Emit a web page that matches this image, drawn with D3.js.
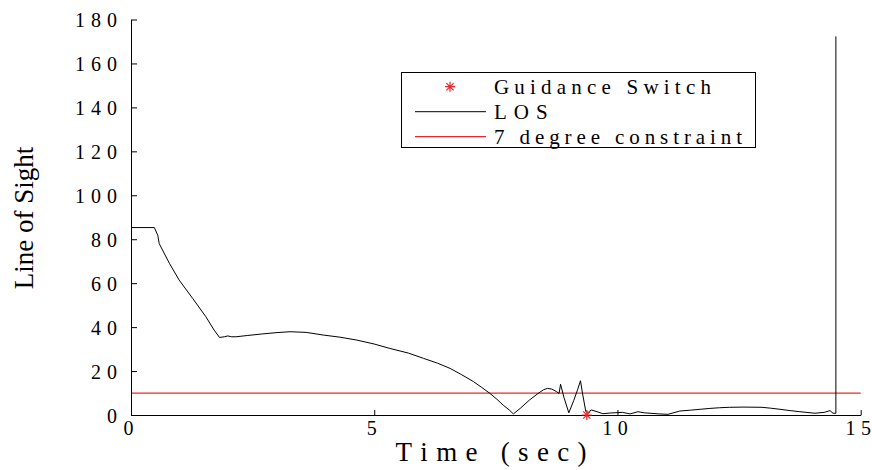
<!DOCTYPE html>
<html>
<head>
<meta charset="utf-8">
<script src="https://cdn.jsdelivr.net/npm/d3@7"></script>
<style>
  html, body { margin: 0; padding: 0; background: #fff; }
  svg { display: block; }
  text { font-family: "Liberation Serif", serif; fill: #000; }
</style>
</head>
<body>
<svg id="chart" width="872" height="470"></svg>
<script>
// ---- data ----
const losTime = [0, 0.48, 0.55, 0.58, 0.79, 0.99, 1.27, 1.54, 1.71, 1.82, 1.92, 1.99, 2.06, 2.16, 2.4, 2.7, 3.0, 3.27, 3.6, 3.95, 4.3, 4.64, 5.0, 5.32, 5.7, 6.01, 6.3, 6.56, 6.8, 7.04, 7.2, 7.38, 7.52, 7.65, 7.78, 7.86, 8.0, 8.19, 8.35, 8.48, 8.56, 8.65, 8.75, 8.8, 8.83, 8.9, 9.0, 9.1, 9.18, 9.24, 9.28, 9.35, 9.4, 9.46, 9.58, 9.7, 9.85, 9.93, 10.1, 10.26, 10.42, 10.55, 10.67, 10.85, 11.04, 11.28, 11.5, 11.7, 11.9, 12.1, 12.3, 12.6, 12.97, 13.15, 13.34, 13.55, 13.75, 14.06, 14.25, 14.37, 14.43, 14.49, 14.49];
const losValue = [85.3, 85.3, 81.8, 78, 69, 61.4, 53, 44.7, 38.6, 35.3, 35.6, 36, 35.6, 35.6, 36.2, 36.9, 37.5, 37.9, 37.6, 36.4, 35.4, 34.1, 32.3, 30.3, 28.2, 25.8, 23.6, 21.2, 18.3, 15.2, 12.7, 9.8, 7.2, 4.5, 2.2, 0.5, 3.0, 6.8, 9.5, 11.5, 12.1, 11.8, 10.6, 9.8, 14.0, 8.0, 1.0, 6.5, 11.5, 15.6, 10.0, 1.5, 1.2, 2.3, 1.5, 0.6, 0.9, 1.0, 1.2, 0.5, 1.5, 1.0, 0.8, 0.5, 0.3, 1.8, 2.2, 2.6, 3.0, 3.3, 3.5, 3.6, 3.5, 3.1, 2.6, 2.0, 1.5, 0.8, 1.2, 2.0, 0.8, 0.8, 172.3];
const constraintTime = [0, 15];
const constraintValue = [10, 10];
const switchTime = [9.37];
const switchValue = [0];
const xTicks = [0, 5, 10, 15];
const yTicks = [0, 20, 40, 60, 80, 100, 120, 140, 160, 180];
const legendLabels = ["Guidance Switch", "LOS", "7 degree constraint"];
const xLabel = "Time (sec)";
const yLabel = "Line of Sight";

// ---- chart ----
const svg = d3.select("#chart");
const x = d3.scaleLinear().domain([0, 15]).range([131, 860.7]);
const y = d3.scaleLinear().domain([0, 180]).range([415, 19.5]);
const RED = "#e8282b";
const SERIF = "Liberation Serif";

// measure per-character advances, then spread characters by explicit x positions
const meas = svg.append("text").attr("font-family", SERIF).attr("x", -1000).attr("y", -1000);
function spread(sel, str, size, x0, gap, anchor) {
  meas.attr("font-size", size);
  const adv = Array.from(str).map(c => { meas.text(c === " " ? "\u00a0" : c); return meas.node().getComputedTextLength(); });
  const total = d3.sum(adv) + gap * (adv.length - 1);
  let start = anchor === "end" ? x0 - total : anchor === "middle" ? x0 - total / 2 : x0;
  const xs = []; let cx = start;
  adv.forEach(a => { xs.push(cx.toFixed(2)); cx += a + gap; });
  sel.attr("font-family", SERIF).attr("font-size", size).attr("text-anchor", "start")
    .attr("x", xs.join(" ")).text(str);
}

// MATLAB-like '*' marker: plus + cross
const starType = { draw(ctx, size) {
  const r = Math.sqrt(size) / 2;
  const d = r * 0.72;
  ctx.moveTo(-r, 0); ctx.lineTo(r, 0);
  ctx.moveTo(0, -r); ctx.lineTo(0, r);
  ctx.moveTo(-d, -d); ctx.lineTo(d, d);
  ctx.moveTo(-d, d); ctx.lineTo(d, -d);
}};
const star = d3.symbol().type(starType).size(100);

// constraint line
svg.append("path")
  .datum(constraintTime.map((t, i) => [t, constraintValue[i]]))
  .attr("fill", "none").attr("stroke", RED).attr("stroke-width", 1.2)
  .attr("d", d3.line().x(d => x(d[0])).y(d => y(d[1])));

// LOS line
svg.append("path")
  .datum(losTime.map((t, i) => [t, losValue[i]]))
  .attr("fill", "none").attr("stroke", "#000").attr("stroke-width", 1)
  .attr("stroke-linejoin", "round")
  .attr("d", d3.line().x(d => x(d[0])).y(d => y(d[1])));

// axes
const xAxis = d3.axisBottom(x).tickValues(xTicks).tickSizeInner(-5).tickSizeOuter(0).tickPadding(6)
  .tickFormat(d3.format("d"));
const gx = svg.append("g").attr("transform", "translate(0,415)").call(xAxis);
gx.attr("font-family", SERIF);
gx.selectAll(".tick text").each(function(d) {
  spread(d3.select(this), String(d), 20, -3, 5.5, "middle");
});

const yAxis = d3.axisLeft(y).tickValues(yTicks).tickSizeInner(-6).tickSizeOuter(0).tickPadding(14)
  .tickFormat(d3.format("d"));
const gy = svg.append("g").attr("transform", "translate(131,0)").call(yAxis);
gy.attr("font-family", SERIF);
gy.selectAll(".tick text").attr("dy", "0.36em").each(function(d) {
  spread(d3.select(this), String(d), 20, -14, 6, "end");
});

svg.selectAll(".domain").attr("stroke", "#000");
svg.selectAll(".tick line").attr("stroke", "#000");

// switch marker
svg.append("g").selectAll("path").data(switchTime.map((t, i) => [t, switchValue[i]])).join("path")
  .attr("transform", d => `translate(${x(d[0])},${y(d[1])})`)
  .attr("d", star).attr("fill", "none").attr("stroke", RED).attr("stroke-width", 1.2);

// axis labels
spread(svg.append("text").attr("y", 461), xLabel, 27, 491, 8.3, "middle");
svg.append("text").attr("transform", "translate(33,218) rotate(-90)").attr("text-anchor", "middle")
  .attr("font-family", SERIF).attr("font-size", 27).text(yLabel);

// legend
const lg = svg.append("g");
lg.append("rect").attr("x", 401.5).attr("y", 72.5).attr("width", 354).attr("height", 75)
  .attr("fill", "#fff").attr("stroke", "#000").attr("stroke-width", 1);
const rowY = [86.7, 111.7, 136.7];
lg.append("path").attr("transform", `translate(450,${rowY[0]})`).attr("d", star)
  .attr("fill", "none").attr("stroke", RED).attr("stroke-width", 1.2);
lg.append("line").attr("x1", 415).attr("x2", 486).attr("y1", rowY[1]).attr("y2", rowY[1])
  .attr("stroke", "#000").attr("stroke-width", 1);
lg.append("line").attr("x1", 415).attr("x2", 486).attr("y1", rowY[2]).attr("y2", rowY[2])
  .attr("stroke", RED).attr("stroke-width", 1.2);
const legendGaps = [5.2, 7, 4.9];
legendLabels.forEach((lab, i) => {
  spread(lg.append("text").attr("y", rowY[i] + 7), lab, 21, 494, legendGaps[i], "start");
});
meas.remove();
</script>
</body>
</html>
